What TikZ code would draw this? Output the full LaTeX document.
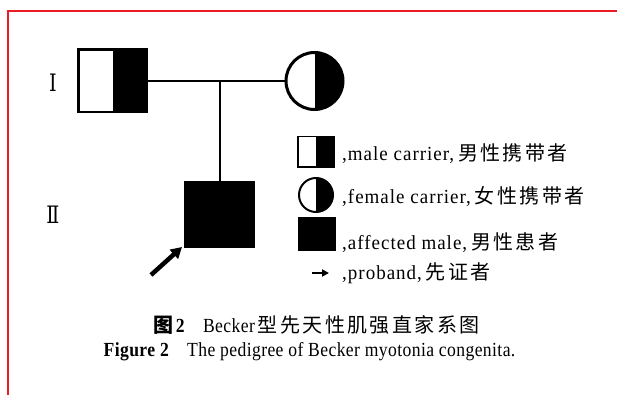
\documentclass[tikz,border=0pt]{standalone}
\usepackage{fontspec}
\usetikzlibrary{arrows.meta}
\setmainfont{Liberation Serif}
\newfontfamily\legfont{Liberation Serif}[FakeStretch=0.95,LetterSpace=5]
\newfontfamily\capfont{Liberation Serif}[FakeStretch=0.88,LetterSpace=2]
\newfontfamily\cjkleg{Noto Sans CJK SC}[LetterSpace=12]
\newfontfamily\cjkcap{Noto Sans CJK SC}[LetterSpace=12]
\newfontfamily\romfont{DejaVu Serif}[FakeStretch=0.8]
\definecolor{framered}{RGB}{237,28,36}
\begin{document}
\begin{tikzpicture}[x=1pt,y=-1pt,
  halfsq/.style={draw,inner sep=0pt,
    path picture={\fill (path picture bounding box.north) rectangle (path picture bounding box.south east);}},
  halfci/.style={draw,circle,inner sep=0pt,
    path picture={\fill (path picture bounding box.north) rectangle (path picture bounding box.south east);}},
  fullsq/.style={draw,fill=black,inner sep=0pt},
  leg/.style={anchor=base west,inner sep=0pt,font=\fontsize{20}{24}\legfont},
  gen/.style={inner sep=0pt,font=\fontsize{24}{28}\romfont},
  bigarrow/.style={line width=4.5pt,-{Triangle[length=11pt,width=12pt]}},
  smallarrow/.style={line width=2.5pt,-{Triangle[length=7pt,width=7pt]}},
  kin/.style={line width=2.7pt}]
\useasboundingbox (0,0) rectangle (617,395);
\draw[framered,line width=1.6pt] (617,11) -- (8,11) -- (8,395);

% generation labels
\node[gen] (g1) at (53,83) {Ⅰ};
\node[gen] (g2) at (53,215) {Ⅱ};

% pedigree
\node[halfsq,line width=2.7pt,minimum width=68.3pt,minimum height=62.3pt] (m1) at (112.5,81) {};
\node[halfci,line width=3pt,minimum size=57pt] (f1) at (314.5,81) {};
\node[fullsq,line width=1pt,minimum width=70pt,minimum height=66pt] (c1) at (219.5,214.5) {};
\draw[kin] (m1.east) -- (f1.west);
\draw[line width=2pt] (c1.north) -- (c1.north |- m1.east);
\coordinate (ptail) at (151,275);
\draw[bigarrow] (ptail) -- ([shift={(-2,-1)}]c1.south west);

% legend
\node[halfsq,line width=1.5pt,minimum width=36.5pt,minimum height=30.5pt] (lm) at (316,152) {};
\node[halfci,line width=2pt,minimum size=34pt] (lf) at (316,195) {};
\node[fullsq,line width=0.5pt,minimum width=37pt,minimum height=33pt] (la) at (316.5,233.5) {};
\coordinate (lpa) at (312,273);
\coordinate (lpb) at (329,273);
\draw[smallarrow] (lpa) -- (lpb);

\node[leg] (t1) at (342,161) {,male carrier,\hspace{4pt}{\cjkleg 男性携带者}};
\node[leg] (t2) at (342,204) {,female carrier,\hspace{4pt}{\cjkleg 女性携带者}};
\node[leg] (t3) at (342,249) {,affected male,\hspace{4pt}{\cjkleg 男性患者}};
\node[leg] (t4) at (342,279) {,proband,\hspace{4pt}{\cjkleg 先证者}};

% caption
\node[anchor=base,inner sep=0pt,font=\fontsize{20}{24}\capfont] (cap1) at (316.5,332)
  {{\cjkcap\bfseries 图}\textbf{2}\hspace{18pt}Becker\hspace{3pt}{\cjkcap 型先天性肌强直家系图}};
\node[anchor=base,inner sep=0pt,font=\fontsize{20}{24}\capfont] (cap2) at (309.5,356)
  {\textbf{Figure 2}\hspace{18pt}The pedigree of Becker myotonia congenita.};
\end{tikzpicture}
\end{document}
